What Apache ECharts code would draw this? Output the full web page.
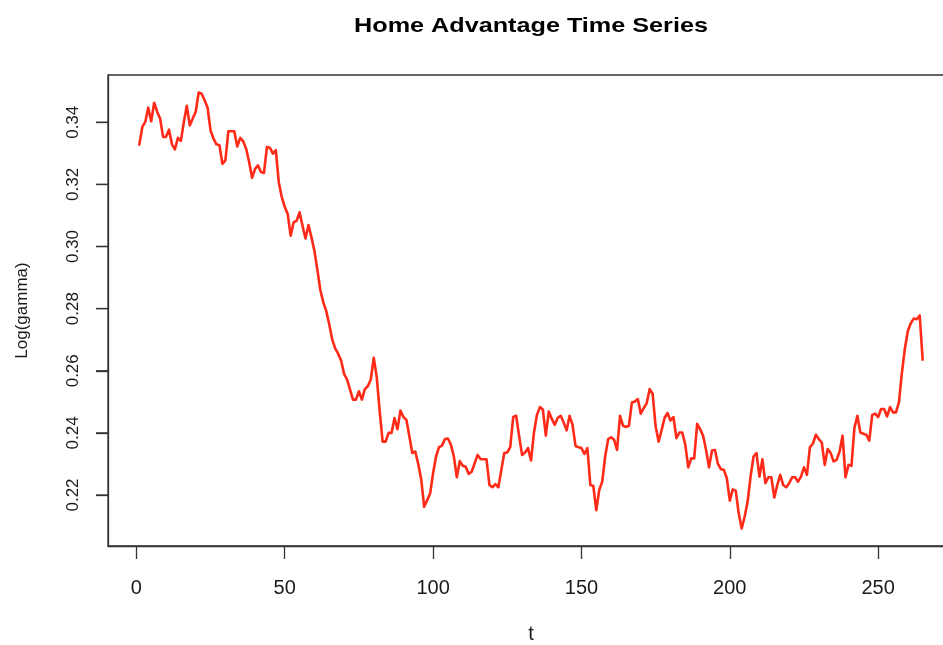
<!DOCTYPE html>
<html>
<head>
<meta charset="utf-8">
<title>Home Advantage Time Series</title>
<script src="https://cdn.jsdelivr.net/npm/echarts@6/dist/echarts.min.js"></script>
<style>
  html, body { margin: 0; padding: 0; background: #ffffff; }
  #chart { width: 943px; height: 645px; }
</style>
</head>
<body>
<div id="chart"></div>
<script>
// Log(gamma) estimates, one per time step t = 1..265
const logGamma = [
  0.3328, 0.3385, 0.3401, 0.3447, 0.3403, 0.3463, 0.3434, 0.3412, 0.3353, 0.3353,
  0.3376, 0.3329, 0.3313, 0.3350, 0.3340, 0.3401, 0.3453, 0.3390, 0.3412, 0.3434,
  0.3496, 0.3492, 0.3471, 0.3447, 0.3374, 0.3347, 0.3329, 0.3326, 0.3266, 0.3277,
  0.3371, 0.3371, 0.3371, 0.3322, 0.3350, 0.3339, 0.3315, 0.3272, 0.3221, 0.3250,
  0.3261, 0.3240, 0.3237, 0.3320, 0.3318, 0.3299, 0.3310, 0.3207, 0.3159, 0.3128,
  0.3105, 0.3035, 0.3078, 0.3083, 0.3110, 0.3067, 0.3026, 0.3069, 0.3030, 0.2986,
  0.2925, 0.2860, 0.2820, 0.2792, 0.2750, 0.2701, 0.2672, 0.2655, 0.2633, 0.2590,
  0.2572, 0.2540, 0.2507, 0.2507, 0.2534, 0.2507, 0.2541, 0.2550, 0.2572, 0.2642,
  0.2580, 0.2470, 0.2372, 0.2372, 0.2400, 0.2400, 0.2448, 0.2412, 0.2472, 0.2451,
  0.2442, 0.2389, 0.2335, 0.2340, 0.2300, 0.2250, 0.2162, 0.2183, 0.2205, 0.2270,
  0.2324, 0.2354, 0.2359, 0.2380, 0.2382, 0.2362, 0.2324, 0.2257, 0.2309, 0.2294,
  0.2291, 0.2268, 0.2275, 0.2302, 0.2329, 0.2316, 0.2315, 0.2315, 0.2232, 0.2225,
  0.2235, 0.2225, 0.2281, 0.2335, 0.2337, 0.2354, 0.2451, 0.2455, 0.2389, 0.2329,
  0.2337, 0.2351, 0.2311, 0.2401, 0.2458, 0.2483, 0.2475, 0.2391, 0.2469, 0.2445,
  0.2426, 0.2448, 0.2455, 0.2434, 0.2408, 0.2455, 0.2426, 0.2358, 0.2354, 0.2351,
  0.2332, 0.2351, 0.2232, 0.2229, 0.2151, 0.2216, 0.2243, 0.2324, 0.2380, 0.2386,
  0.2378, 0.2345, 0.2455, 0.2423, 0.2419, 0.2423, 0.2498, 0.2501, 0.2509, 0.2462,
  0.2480, 0.2496, 0.2541, 0.2526, 0.2421, 0.2372, 0.2408, 0.2448, 0.2464, 0.2440,
  0.2451, 0.2383, 0.2401, 0.2401, 0.2362, 0.2289, 0.2318, 0.2318, 0.2429, 0.2412,
  0.2391, 0.2345, 0.2289, 0.2343, 0.2345, 0.2300, 0.2283, 0.2281, 0.2254, 0.2182,
  0.2218, 0.2214, 0.2141, 0.2092, 0.2130, 0.2178, 0.2259, 0.2324, 0.2335, 0.2259,
  0.2315, 0.2238, 0.2257, 0.2257, 0.2192, 0.2232, 0.2265, 0.2232, 0.2225, 0.2238,
  0.2257, 0.2257, 0.2243, 0.2259, 0.2289, 0.2265, 0.2354, 0.2365, 0.2394, 0.2380,
  0.2369, 0.2297, 0.2348, 0.2335, 0.2308, 0.2313, 0.2340, 0.2391, 0.2257, 0.2297,
  0.2294, 0.2416, 0.2455, 0.2401, 0.2397, 0.2394, 0.2375, 0.2458, 0.2462, 0.2451,
  0.2477, 0.2477, 0.2453, 0.2483, 0.2466, 0.2466, 0.2498, 0.2593, 0.2671, 0.2728,
  0.2753, 0.2768, 0.2766, 0.2778, 0.2636
];

// Tick positions on each axis
const xTicks = [0, 50, 100, 150, 200, 250];
const yTicks = [0.22, 0.24, 0.26, 0.28, 0.30, 0.32, 0.34];

const chartTitle = 'Home Advantage Time Series';
const xName = 't';
const yName = 'Log(gamma)';

const seriesData = logGamma.map((v, i) => [i + 1, v]);

// Axis ranges padded by 4% of the data range on each side
const n = logGamma.length;
const xPad = 0.04 * (n - 1);
const xRange = { min: 1 - xPad, max: n + xPad };
const yMin = Math.min(...logGamma), yMax = Math.max(...logGamma);
const yPad = 0.04 * (yMax - yMin);
const yRange = { min: yMin - yPad, max: yMax + yPad };

const FONT = '"Liberation Sans", Arial, Helvetica, sans-serif';
const INK = '#1a1a1a';
const FRAME = '#333333';
const TICK_LEN = 12;

const chart = echarts.init(document.getElementById('chart'), null, { renderer: 'canvas' });

chart.setOption({
  animation: false,
  backgroundColor: '#ffffff',
  graphic: [{
    // bold title, drawn slightly wide like the rest of the lettering
    type: 'text',
    x: 531,
    y: 26,
    scaleX: 1.2,
    silent: true,
    style: {
      text: chartTitle,
      font: 'bold 21px ' + FONT,
      fill: '#000',
      align: 'center',
      verticalAlign: 'middle'
    }
  }],
  grid: {
    left: 108, top: 75, right: -11, bottom: 99,
    containLabel: false,
    outerBoundsMode: 'none',
    show: true,
    borderColor: FRAME,
    borderWidth: 1.3,
    backgroundColor: 'transparent'
  },
  xAxis: {
    type: 'value',
    min: xRange.min,
    max: xRange.max,
    name: xName,
    nameLocation: 'middle',
    nameGap: 78,
    nameTextStyle: { fontFamily: FONT, fontSize: 20, color: INK, verticalAlign: 'top' },
    axisLine: { show: true, onZero: false, lineStyle: { color: FRAME, width: 1.3 } },
    splitLine: { show: false },
    axisTick: {
      show: true, inside: false, length: 13,
      customValues: xTicks,
      lineStyle: { color: FRAME, width: 1.3 }
    },
    axisLabel: {
      customValues: xTicks,
      margin: 32,
      fontFamily: FONT, fontSize: 20, color: INK,
      formatter: v => String(v)
    }
  },
  yAxis: {
    type: 'value',
    position: 'left',
    min: yRange.min,
    max: yRange.max,
    name: yName,
    nameLocation: 'middle',
    nameGap: 77,
    nameRotate: 90,
    nameTextStyle: { fontFamily: FONT, fontSize: 17, color: INK },
    axisLine: { show: true, onZero: false, lineStyle: { color: FRAME, width: 1.3 } },
    splitLine: { show: false },
    axisTick: {
      show: true, inside: false, length: TICK_LEN,
      customValues: yTicks,
      lineStyle: { color: FRAME, width: 1.3 }
    },
    axisLabel: {
      customValues: yTicks,
      rotate: 90,
      margin: 26,
      fontFamily: FONT, fontSize: 17, color: INK,
      formatter: v => v.toFixed(2)
    }
  },
  series: [{
    type: 'line',
    data: seriesData,
    showSymbol: false,
    symbol: 'none',
    lineStyle: { color: '#ff2a17', width: 2.6, join: 'round', cap: 'round' },
    silent: true,
    z: 3
  }, {
    // outward tick marks on the left frame edge, placed through the y scale
    type: 'custom',
    silent: true,
    clip: false,
    z: 4,
    data: yTicks.map(v => [xRange.min, v]),
    renderItem: (params, api) => {
      const p = api.coord([api.value(0), api.value(1)]);
      return {
        type: 'line',
        shape: { x1: p[0] - TICK_LEN, y1: p[1], x2: p[0], y2: p[1] },
        style: { stroke: FRAME, lineWidth: 1.3 }
      };
    }
  }]
});
</script>
</body>
</html>
